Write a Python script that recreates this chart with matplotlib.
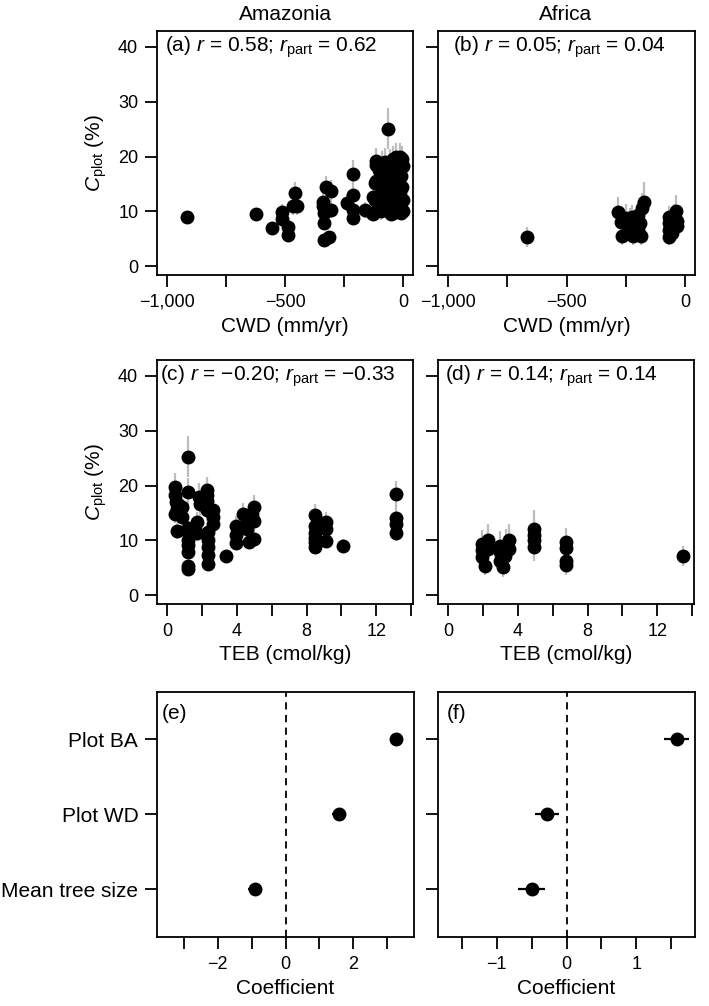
import numpy as np
import matplotlib
matplotlib.use("Agg")
from matplotlib import pyplot as plt

plt.rcParams['font.family'] = ['Liberation Sans', 'DejaVu Sans']
plt.rcParams['font.size'] = 15
plt.rcParams['mathtext.fontset'] = 'custom'
plt.rcParams['mathtext.rm'] = 'Liberation Sans'
plt.rcParams['mathtext.it'] = 'Liberation Sans:italic'
plt.rcParams['axes.unicode_minus'] = True

# (a) Amazonia: CWD vs C_plot
cwd_amz = [-914, -624, -554, -514, -514, -489, -489, -467, -458, -450,
           -338, -338, -333, -333, -333, -328, -312, -306, -306,
           -239, -213, -213, -213, -213, -161, -133, -128, -128, -119, -119, -114, -114, -114,
           -100, -98, -96, -95, -92, -88, -86, -84, -82, -80,
           -75, -72, -70, -68, -66, -62, -58, -55, -52, -50, -48, -46, -44, -41,
           -38, -35, -33, -30, -28, -26, -24, -22, -20, -18, -15, -13, -10, -8, -6, -4, -2, 0, 1]
cplot_amz_a = [8.9, 9.5, 7.0, 9.8, 8.7, 7.2, 5.7, 10.9, 13.3, 10.9,
               11.8, 10.9, 9.7, 7.8, 4.8, 14.4, 5.4, 13.8, 10.3,
               11.6, 16.9, 12.9, 10.3, 8.8, 10.3, 9.7, 12.7, 9.6, 15.2, 12.1, 19.1, 18.5, 15.5,
               17.5, 11.5, 16.0, 14.5, 10.0, 18.5, 13.0, 15.5, 17.0, 12.5,
               19.0, 14.0, 16.0, 11.0, 17.5, 25.1, 13.0, 18.8, 9.5, 15.0, 16.5, 12.0, 19.5, 9.7,
               18.0, 10.5, 14.0, 20.0, 16.5, 12.5, 18.5, 15.5, 11.0, 17.0, 13.5, 20.0, 9.7, 16.5, 19.5, 14.5, 12.0, 18.2, 10.0]
err_amz_a = [1.0, 1.2, 1.0, 1.5, 1.2, 1.0, 1.0, 1.5, 2.0, 1.5,
             1.5, 1.5, 1.2, 1.2, 1.0, 2.0, 1.0, 2.0, 1.5,
             1.5, 2.5, 1.8, 1.5, 1.2, 1.5, 1.2, 1.8, 1.2, 2.0, 1.5, 2.5, 2.5, 2.0,
             2.2, 1.5, 2.0, 2.0, 1.5, 2.5, 1.8, 2.0, 2.2, 1.8,
             2.5, 2.0, 2.0, 1.5, 2.2, 3.8, 1.8, 2.5, 1.2, 2.0, 2.2, 1.5, 2.5, 1.2,
             2.2, 1.5, 2.0, 2.5, 2.2, 1.8, 2.5, 2.0, 1.5, 2.2, 1.8, 2.5, 1.2, 2.0, 2.5, 2.0, 1.5, 2.5, 1.5]

# (b) Africa: CWD vs C_plot
cwd_afr = [-668, -284, -271, -264, -232, -218, -211, -200, -197, -190, -186, -180, -173,
           -240, -250, -225, -66, -66, -66, -66, -55, -38, -34, -34, -45, -60]
cplot_afr_b = [5.3, 9.8, 8.1, 5.6, 8.4, 5.6, 7.2, 9.4, 6.8, 7.8, 5.6, 10.6, 11.8,
               6.5, 8.8, 9.0, 9.0, 7.8, 6.6, 5.4, 6.1, 10.0, 8.2, 7.3, 9.2, 8.5]
err_afr_b = [1.8, 2.8, 2.0, 1.8, 2.2, 1.8, 2.0, 2.5, 1.8, 2.2, 1.8, 2.8, 3.5,
             1.8, 2.5, 2.2, 2.0, 2.0, 1.8, 1.5, 1.8, 3.0, 2.2, 2.0, 2.2, 2.0]

# (c) Amazonia: TEB vs C_plot
teb_amz = [0.46, 0.46, 0.52, 0.57, 0.84, 0.46, 0.84, 0.55, 0.70, 0.65,
           1.22, 1.22, 1.22, 1.22, 1.22, 1.22, 1.22, 1.22, 1.22,
           1.70, 1.70, 1.86, 1.90, 2.28, 2.28, 2.28, 2.28,
           2.37, 2.37, 2.37, 2.37, 2.37, 2.66, 2.66, 2.66,
           3.39, 3.96, 3.96, 3.96, 4.38, 4.57, 4.57, 4.70, 4.85, 4.97, 5.0, 5.0,
           8.49, 8.49, 8.49, 8.49, 8.49, 8.49, 9.12, 9.12, 9.12, 10.08,
           13.14, 13.14, 13.14, 13.14]
cplot_amz_c = [19.8, 18.2, 17.0, 15.8, 16.1, 14.9, 14.3, 11.7, 16.5, 15.0,
               25.3, 18.9, 12.3, 11.5, 10.0, 9.1, 7.8, 5.3, 4.7,
               11.4, 13.3, 17.9, 16.7, 19.1, 18.3, 17.1, 15.5,
               11.5, 10.0, 8.8, 7.3, 5.7, 15.5, 14.3, 13.0,
               7.1, 12.7, 10.9, 9.6, 14.9, 13.6, 12.0, 9.7, 14.9, 16.1, 13.6, 10.3,
               14.6, 12.7, 11.4, 10.5, 9.7, 8.8, 13.3, 12.1, 9.8, 9.0,
               18.4, 14.1, 12.9, 11.3]
err_amz_c = [2.5, 2.2, 2.0, 2.0, 2.0, 1.8, 1.8, 1.5, 2.0, 1.8,
             3.8, 2.5, 1.5, 1.5, 1.2, 1.2, 1.0, 1.0, 1.0,
             1.5, 1.8, 2.5, 2.2, 2.5, 2.2, 2.2, 2.0,
             1.5, 1.2, 1.2, 1.0, 1.0, 2.0, 1.8, 1.8,
             1.0, 1.8, 1.5, 1.2, 2.0, 1.8, 1.5, 1.2, 2.0, 2.2, 1.8, 1.5,
             2.0, 1.8, 1.5, 1.5, 1.2, 1.2, 1.8, 1.5, 1.2, 1.2,
             2.5, 2.0, 1.8, 1.5]

# (d) Africa: TEB vs C_plot
teb_afr = [1.93, 1.93, 1.93, 2.11, 2.30, 2.30, 2.97, 2.97, 2.97, 3.16, 3.25, 3.35, 3.50, 3.50,
           4.91, 4.91, 4.91, 4.91, 6.78, 6.78, 6.78, 6.78, 13.45]
cplot_afr_d = [9.4, 8.2, 7.0, 5.4, 10.0, 8.4, 9.0, 7.8, 6.3, 5.1, 7.2, 9.0, 10.0, 8.4,
               12.0, 10.9, 10.0, 8.8, 9.7, 8.6, 6.3, 5.5, 7.2]
err_afr_d = [2.5, 2.2, 2.0, 1.8, 3.0, 2.2, 2.8, 2.2, 2.0, 1.8, 2.0, 3.0, 3.0, 2.2,
             3.5, 3.0, 2.5, 2.5, 2.5, 2.2, 1.8, 1.8, 1.8]

# (e), (f) coefficients
predictors = ['Plot BA', 'Plot WD', 'Mean tree size']
pred_pos = [3, 2, 1]
coef_amz = [3.26, 1.56, -0.91]
coef_amz_err = [0.2, 0.18, 0.2]
coef_afr = [1.58, -0.28, -0.50]
coef_afr_err = [0.18, 0.17, 0.19]

W, H = 709, 1006
fig = plt.figure(figsize=(W / 100, H / 100), dpi=100)


def make_ax(left, top, right, bottom):
    ax = fig.add_axes([left / W, 1 - bottom / H, (right - left) / W, (bottom - top) / H])
    for s in ax.spines.values():
        s.set_linewidth(1.3)
    ax.tick_params(direction='out', length=8.5, width=1.3, pad=5, labelsize=13)
    return ax


def set_ticks(ax, axis, ticks, labeled, fmt):
    labels = [fmt(t) if t in labeled else '' for t in ticks]
    if axis == 'x':
        ax.set_xticks(ticks)
        ax.set_xticklabels(labels)
    else:
        ax.set_yticks(ticks)
        ax.set_yticklabels(labels)


def minus(v):
    s = '{:,}'.format(v) if isinstance(v, int) else '{:g}'.format(v)
    return s.replace('-', '\u2212')


def scatter_panel(ax, x, y, e, label, lab_x):
    ax.errorbar(x, y, yerr=e, fmt='none', ecolor='#bdbdbd', elinewidth=1.6, capsize=0, zorder=1)
    ax.plot(x, y, 'o', color='black', ms=9, zorder=2)
    ax.set_ylim(-1.6, 42.9)
    set_ticks(ax, 'y', [0, 10, 20, 30, 40], [0, 10, 20, 30, 40], minus)
    ax.text(lab_x, 0.934, label, transform=ax.transAxes, ha='left', va='center', fontsize=15)


panels = {
    'a': (157, 31, 413, 275), 'b': (438, 31, 695, 275),
    'c': (157, 360, 413, 604), 'd': (438, 360, 694, 604),
    'e': (157, 692, 414, 937), 'f': (438, 692, 695, 937),
}
axs = {k: make_ax(*v) for k, v in panels.items()}

cwd_ticks = [-1000, -750, -500, -250, 0]
cwd_lab = [-1000, -500, 0]
teb_ticks = [0, 2, 4, 6, 8, 10, 12, 14]
teb_lab = [0, 4, 8, 12]

scatter_panel(axs['a'], cwd_amz, cplot_amz_a, err_amz_a,
              '(a) $r$ = 0.58; $r_{\\mathrm{part}}$ = 0.62', 0.031)
scatter_panel(axs['b'], cwd_afr, cplot_afr_b, err_afr_b,
              '(b) $r$ = 0.05; $r_{\\mathrm{part}}$ = 0.04', 0.058)
scatter_panel(axs['c'], teb_amz, cplot_amz_c, err_amz_c,
              '(c) $r$ = \u22120.20; $r_{\\mathrm{part}}$ = \u22120.33', 0.012)
scatter_panel(axs['d'], teb_afr, cplot_afr_d, err_afr_d,
              '(d) $r$ = 0.14; $r_{\\mathrm{part}}$ = 0.14', 0.027)

for k in ['a', 'b']:
    axs[k].set_xlim(-1042, 42)
    set_ticks(axs[k], 'x', cwd_ticks, cwd_lab, minus)
    axs[k].set_xlabel('CWD (mm/yr)', fontsize=15)
for k in ['c', 'd']:
    axs[k].set_xlim(-0.57, 14.1)
    set_ticks(axs[k], 'x', teb_ticks, teb_lab, minus)
    axs[k].set_xlabel('TEB (cmol/kg)', fontsize=15)
for k in ['a', 'c']:
    axs[k].set_ylabel('$C_{\\mathrm{plot}}$ (%)', fontsize=15)
    axs[k].yaxis.set_label_coords(-0.238, 0.5)
    axs[k].yaxis.label.set_va('center')
for k in ['b', 'd']:
    axs[k].set_yticklabels([])

# coefficient panels
for k, coef, err, lim, ticks, lab, txt, tx in [
        ('e', coef_amz, coef_amz_err, 3.78, [-3, -2, -1, 0, 1, 2, 3], [-2, 0, 2], '(e)', 0.02),
        ('f', coef_afr, coef_afr_err, 1.84, [-1.5, -1, -0.5, 0, 0.5, 1, 1.5], [-1, 0, 1], '(f)', 0.035)]:
    ax = axs[k]
    ax.axvline(0, color='black', lw=1.3, ls=(0, (4, 3)), zorder=1)
    ax.errorbar(coef, pred_pos, xerr=err, fmt='o', color='black', ms=9,
                elinewidth=1.6, capsize=0, zorder=2)
    ax.set_xlim(-lim, lim)
    ax.set_ylim(0.36, 3.63)
    set_ticks(ax, 'x', ticks, lab, minus)
    ax.set_yticks(pred_pos)
    ax.set_xlabel('Coefficient', fontsize=15)
    ax.text(tx, 0.914, txt, transform=ax.transAxes, ha='left', va='center', fontsize=15)
axs['e'].set_yticklabels(predictors, fontsize=15)
axs['f'].set_yticklabels([])

for k in panels:
    axs[k].xaxis.set_label_coords(0.5, -51 / 244)
    axs[k].xaxis.label.set_va('center')

fig.text(285 / W, 1 - 14 / H, 'Amazonia', ha='center', va='center', fontsize=15)
fig.text(566 / W, 1 - 14 / H, 'Africa', ha='center', va='center', fontsize=15)

fig.savefig('out.png', dpi=100)
